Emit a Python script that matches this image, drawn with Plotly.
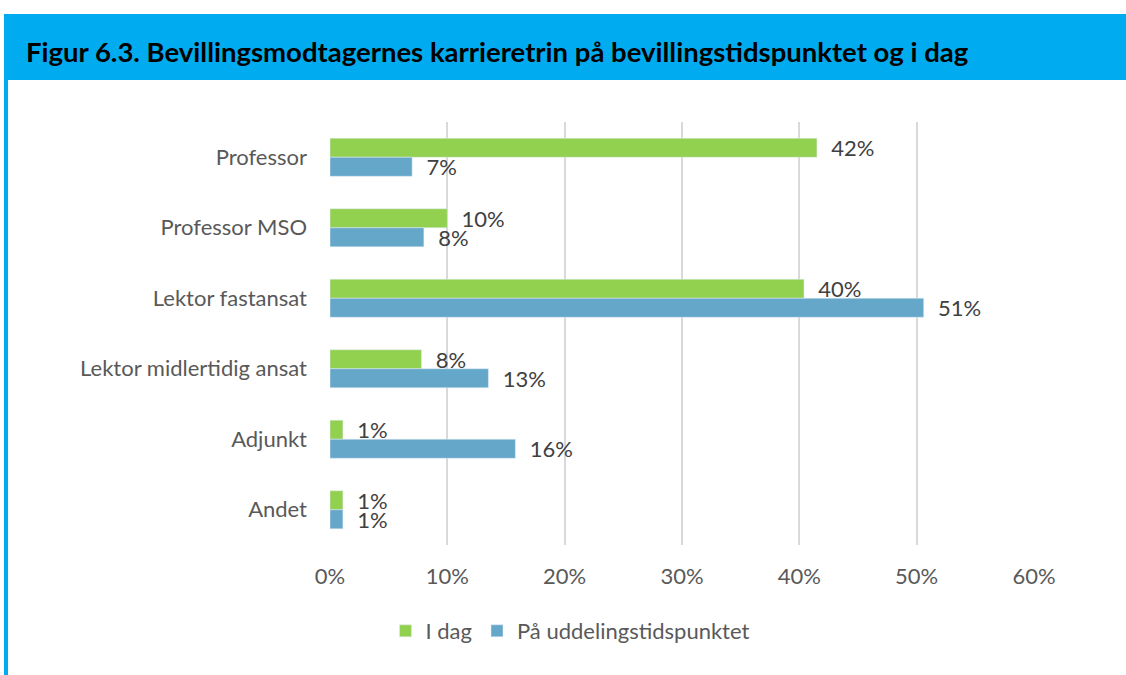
import plotly.graph_objects as go

categories = ["Professor", "Professor MSO", "Lektor fastansat", "Lektor midlertidig ansat", "Adjunkt", "Andet"]
i_dag = [0.415, 0.10, 0.404, 0.078, 0.011, 0.011]
paa_uddeling = [0.07, 0.08, 0.506, 0.135, 0.158, 0.011]
i_dag_labels = ["42%", "10%", "40%", "8%", "1%", "1%"]
paa_labels = ["7%", "8%", "51%", "13%", "16%", "1%"]
x_ticks = [0, 0.1, 0.2, 0.3, 0.4, 0.5, 0.6]
x_tick_labels = ["0%", "10%", "20%", "30%", "40%", "50%", "60%"]

GREEN = "#92D050"
BLUE = "#65A7C9"
FONT = "Lato, 'Open Sans', sans-serif"

W, H = 1126, 675
L, R, T, B = 330, 92, 122, 130
pw, ph = W - L - R, H - T - B

def px_x(p):
    return (p - L) / pw

def px_y(p):
    return (H - B - p) / ph

fig = go.Figure()
fig.add_trace(go.Bar(
    y=categories, x=i_dag, name="I dag", orientation="h",
    marker=dict(color=GREEN), text=["  " + t for t in i_dag_labels], textposition="outside",
    textfont=dict(color="#404040", size=22, family=FONT), cliponaxis=False, constraintext="none",
))
fig.add_trace(go.Bar(
    y=categories, x=paa_uddeling, name="På uddelingstidspunktet", orientation="h",
    marker=dict(color=BLUE), text=["  " + t for t in paa_labels], textposition="outside",
    textfont=dict(color="#404040", size=22, family=FONT), cliponaxis=False, constraintext="none",
))

shapes = [
    dict(type="rect", xref="paper", yref="paper", x0=px_x(4), x1=px_x(1126), y0=px_y(80), y1=px_y(14),
         fillcolor="#00ACEF", line=dict(width=0), layer="below"),
    dict(type="rect", xref="paper", yref="paper", x0=px_x(4), x1=px_x(8), y0=px_y(675), y1=px_y(80),
         fillcolor="#00ACEF", line=dict(width=0), layer="below"),
]

fig.update_layout(
    width=W, height=H,
    margin=dict(l=L, r=R, t=T, b=B),
    paper_bgcolor="white", plot_bgcolor="white",
    barmode="group", bargap=0.46, bargroupgap=0,
    font=dict(family=FONT, color="#595959", size=22),
    shapes=shapes,
    annotations=[dict(
        text="<b>Figur 6.3. Bevillingsmodtagernes karrieretrin på bevillingstidspunktet og i dag</b>",
        xref="paper", yref="paper", x=px_x(24), y=px_y(51), xanchor="left", yanchor="middle",
        showarrow=False, font=dict(size=27.5, color="black", family=FONT),
    )],
    xaxis=dict(range=[0, 0.6], tickvals=x_ticks, ticktext=x_tick_labels,
               showgrid=True, gridcolor="#D9D9D9", gridwidth=2, zeroline=False,
               showline=False, ticks="", ticklabelstandoff=16,
               tickfont=dict(size=22, color="#595959")),
    yaxis=dict(autorange="reversed", showgrid=False, showline=False, ticks="",
               ticklabelstandoff=22, tickfont=dict(size=22, color="#595959")),
    legend=dict(orientation="h", x=px_x(570), xanchor="center", y=px_y(631), yanchor="middle",
                font=dict(size=22, color="#595959"), traceorder="normal"),
    showlegend=True,
)

fig.write_html("out.html", config={"displayModeBar": False},
               post_script="document.body.style.margin='0';")
